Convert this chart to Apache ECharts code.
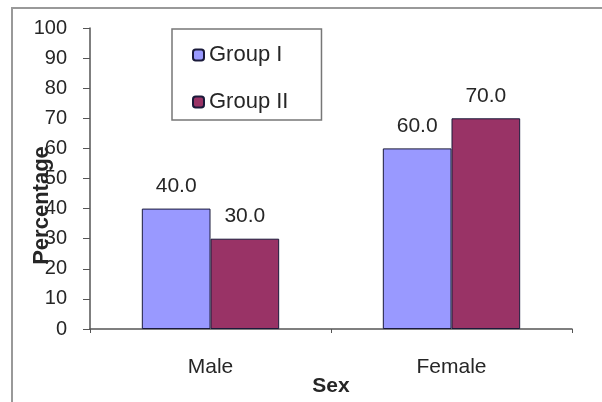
<!DOCTYPE html>
<html>
<head>
<meta charset="utf-8">
<script src="https://cdn.jsdelivr.net/npm/echarts@6/dist/echarts.min.js"></script>
<style>
  html, body { margin: 0; padding: 0; background: #fff; }
  #chart { width: 602px; height: 402px; }
</style>
</head>
<body>
<div id="chart"></div>
<script>
// Percentage of each sex, by study group
const categories = ['Male', 'Female'];
const groupIValues = [40.0, 60.0];
const groupIIValues = [30.0, 70.0];
const seriesNames = ['Group I', 'Group II'];
const yTicks = { min: 0, max: 100, interval: 10 };

const font = 'Liberation Sans, Arial, sans-serif';
const textColor = '#262626';
const axisColor = '#555';

const chart = echarts.init(document.getElementById('chart'), null, { renderer: 'canvas' });

function barSeries(name, data, color) {
  return {
    name: name,
    type: 'bar',
    data: data,
    barGap: '0%',
    barCategoryGap: '43%',
    itemStyle: { color: color, borderColor: '#1a1a3a', borderWidth: 1 },
    label: {
      show: true,
      position: 'top',
      distance: 12,
      formatter: p => p.value.toFixed(1),
      fontFamily: font,
      fontSize: 21,
      color: textColor
    }
  };
}

chart.setOption({
  animation: false,
  backgroundColor: '#fff',
  textStyle: { fontFamily: font },
  grid: { left: 90, right: 30, top: 28, bottom: 73, containLabel: false },
  legend: {
    orient: 'vertical',
    left: 172,
    top: 29,
    padding: [15, 33, 7, 20],
    itemGap: 25,
    itemWidth: 11,
    itemHeight: 11,
    borderColor: '#777',
    borderWidth: 1.5,
    textStyle: { fontFamily: font, fontSize: 22, color: textColor, padding: [0, 0, 0, 0] },
    data: seriesNames
  },
  xAxis: {
    type: 'category',
    data: categories,
    name: 'Sex',
    nameLocation: 'middle',
    nameGap: 47,
    nameMoveOverlap: false,
    nameTextStyle: { fontFamily: font, fontSize: 21, fontWeight: 'bold', color: textColor, verticalAlign: 'top' },
    axisLine: { lineStyle: { color: axisColor, width: 1.5 } },
    axisTick: { show: true, length: 4, lineStyle: { color: axisColor } },
    axisLabel: { fontFamily: font, fontSize: 21, color: textColor, margin: 28 }
  },
  yAxis: {
    type: 'value',
    min: yTicks.min,
    max: yTicks.max,
    interval: yTicks.interval,
    name: 'Percentage',
    nameLocation: 'middle',
    nameRotate: 90,
    nameGap: 37,
    nameMoveOverlap: false,
    nameTextStyle: { fontFamily: font, fontSize: 22, fontWeight: 'bold', color: textColor, padding: [0, 54, 0, 0] },
    splitLine: { show: false },
    axisLine: { show: true, lineStyle: { color: axisColor, width: 1.5 } },
    axisTick: { show: true, length: 7, lineStyle: { color: axisColor } },
    axisLabel: { fontFamily: font, fontSize: 20, color: textColor, margin: 23 }
  },
  series: [
    barSeries(seriesNames[0], groupIValues, '#9999FF'),
    barSeries(seriesNames[1], groupIIValues, '#993366')
  ],
  graphic: [{
    type: 'polyline',
    shape: { points: [[12, 402], [12, 8], [602, 8]] },
    style: { stroke: '#999', lineWidth: 2, fill: null },
    silent: true
  }]
});
</script>
</body>
</html>
